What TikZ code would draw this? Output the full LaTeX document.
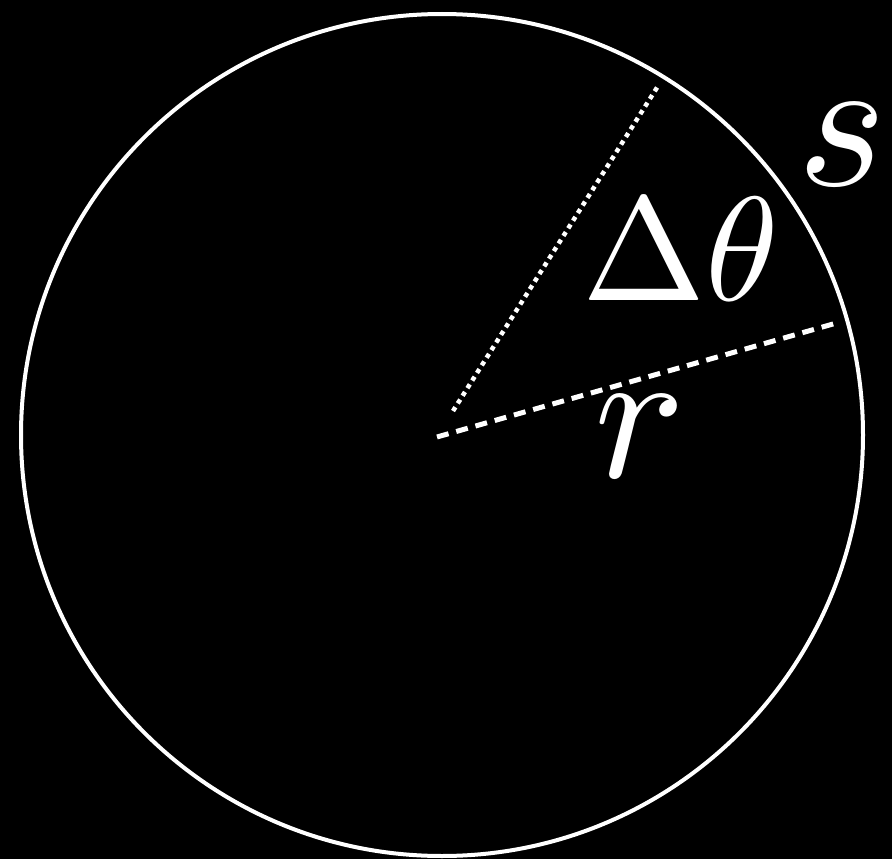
\documentclass[tikz,border=0pt]{standalone}
\usepackage{unicode-math}
\setmathfont{Latin Modern Math}
\begin{document}
\begin{tikzpicture}[x=1pt,y=-1pt,
  rim/.style={draw=white,line width=4pt},
  radial/.style={draw=white,line width=5pt,dash pattern=on 12pt off 8pt},
  dottedline/.style={draw=white,line width=4.5pt,dash pattern=on 4.5pt off 4.5pt},
  bigsym/.style={text=white,inner sep=0pt,anchor=base,font=\fontsize{190}{200}\selectfont},
  midsym/.style={text=white,inner sep=0pt,anchor=base,font=\fontsize{148}{160}\selectfont}]
\fill[black] (0,0) rectangle (892,859);
\useasboundingbox (0,0) rectangle (892,859);
\coordinate (o) at (442,435);
\draw[rim] (o) circle[radius=421pt];
\coordinate (c) at (437,437);
\coordinate (rend) at (840,322);
\coordinate (t0) at (453,411);
\coordinate (t1) at (658,86);
\draw[radial] (c) -- (rend);
\draw[dottedline] (t0) -- (t1);
\node[bigsym] (s) at (842,185) {$s$};
\node[midsym] (dtheta) at (680,300) {$\Delta\theta$};
\node[bigsym] (r) at (639,477) {$r$};
\end{tikzpicture}
\end{document}
